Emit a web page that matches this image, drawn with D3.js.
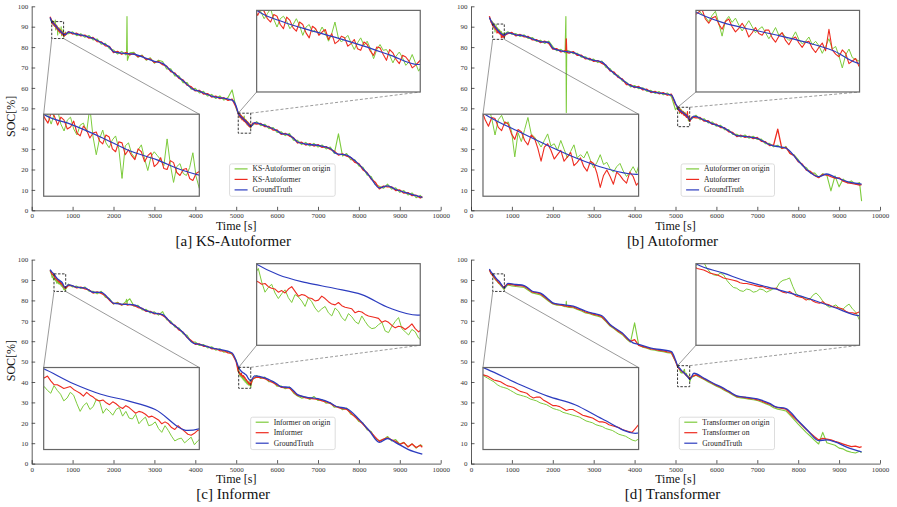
<!DOCTYPE html>
<html>
<head>
<meta charset="utf-8">
<script src="https://cdn.jsdelivr.net/npm/d3@7"></script>
<style>
  body { margin: 0; background: #fff; }
  svg text { font-family: "Liberation Serif", "Times New Roman", serif; }
</style>
</head>
<body>
<svg id="chart" width="897" height="507"></svg>
<script>
// ---- sample times (s) shared by the two predicted series of every panel ----
const tStart = [450];
const tNear = d3.range(480, 841, 6);       // dense around the first zoom window
const tMidA = d3.range(900, 2301, 100);
const tSpike = [2320, 2330, 2340];
const tMidB = d3.range(2400, 5001, 100);
const tDrop = d3.range(5040, 5365, 6);     // dense around the second zoom window
const tEnd = d3.range(5400, 9501, 100).concat([9550]);
const sampleTimes = [].concat(tStart, tNear, tMidA, tSpike, tMidB, tDrop, tEnd);

// ground truth knots
const truthTimes = [450, 490, 540, 600, 650, 700, 750, 810, 900, 1100, 1300, 1500, 1700, 1900, 2000, 2200, 2500, 2800, 3000, 3200,
  3400, 3700, 3950, 4100, 4400, 4900, 5000, 5050, 5100, 5150, 5200, 5250, 5300, 5350, 5450, 5700, 6000, 6100, 6300, 6500,
  6700, 7000, 7300, 7450, 7700, 8000, 8250, 8500, 8700, 8900, 9200, 9550];

const truthA = [94.5, 92.5, 91.5, 90.1, 88.8, 87.9, 86.8, 86.1, 87.3, 86.3, 85.5, 84.3, 82.2, 80.0, 77.8, 77.0, 76.5, 74.5, 73.0, 72.0,
  68.5, 63.5, 59.3, 58.3, 56.0, 54.0, 51.0, 47.6, 46.2, 45.2, 44.3, 43.3, 42.2, 41.1, 43.0, 41.5, 39.0, 37.7, 36.9, 33.5,
  32.5, 31.8, 30.3, 27.8, 27.0, 22.5, 17.0, 11.0, 12.0, 10.2, 8.3, 6.3];
const truthB = [94.5, 92.8, 91.1, 89.6, 88.4, 87.3, 86.4, 85.8, 87.0, 86.0, 85.5, 84.0, 82.7, 82.3, 79.5, 78.2, 77.3, 74.7, 73.5, 72.6,
  68.8, 64.0, 60.7, 60.2, 58.2, 56.5, 52.5, 50.4, 49.1, 48.3, 47.6, 46.8, 45.8, 44.3, 46.2, 44.2, 41.8, 41.1, 39.0, 36.6,
  36.2, 35.3, 32.2, 31.4, 30.5, 24.3, 19.2, 16.5, 17.8, 16.3, 14.0, 12.8];
const truthC = [95.1, 94.0, 93.0, 91.3, 90.2, 89.5, 88.6, 86.4, 87.6, 86.5, 86.1, 84.0, 83.9, 80.5, 78.7, 78.2, 77.8, 75.0, 73.8, 73.0,
  69.2, 64.3, 59.1, 58.5, 56.7, 54.2, 50.3, 47.6, 45.8, 44.8, 44.1, 43.3, 41.6, 40.7, 43.0, 42.0, 39.0, 37.7, 37.4, 33.8,
  32.6, 31.8, 29.8, 28.0, 27.0, 21.8, 16.2, 10.4, 12.3, 10.3, 7.0, 4.6];
const truthD = [95.4, 94.0, 92.8, 91.2, 90.0, 89.1, 87.6, 86.1, 88.3, 87.8, 87.3, 84.5, 83.6, 80.5, 78.8, 78.0, 77.2, 74.8, 73.6, 72.5,
  68.2, 64.0, 59.3, 58.4, 56.6, 54.9, 50.8, 48.0, 46.8, 45.6, 44.7, 43.7, 42.5, 41.4, 44.3, 41.8, 38.6, 37.7, 35.5, 33.2,
  32.6, 31.7, 29.5, 27.8, 27.0, 21.0, 15.9, 11.3, 11.6, 10.6, 8.0, 5.8];

// ---- predictions (red) and predictions on origin data (green), aligned with sampleTimes ----
const predA = [94.9,
  93.4, 92.9, 92.1, 91.6, 92.7, 92.3, 91.4, 92.2, 91.9, 91.0, 91.2, 91.8, 90.6, 90.3, 91.3, 90.9, 90.1, 90.6, 90.7, 89.8,
  89.5, 90.4, 90.2, 89.0, 88.7, 89.7, 89.6, 88.4, 88.9, 88.3, 87.9, 89.0, 88.7, 87.7, 88.3, 88.6, 87.2, 87.5, 88.1, 87.0,
  86.9, 87.8, 87.6, 86.6, 86.3, 86.9, 87.0, 86.0, 85.8, 86.5, 86.7, 85.9, 85.4, 86.6, 86.4, 85.7, 85.9, 86.3, 86.8, 86.0, 86.3,
  87.6, 86.4, 86.8, 85.5, 85.9, 84.4, 84.7, 82.7, 82.6, 80.6, 80.4, 77.3, 77.9, 76.5, 77.3,
  76.6, 77.4, 76.9,
  76.2, 76.9, 75.3, 75.7, 73.9, 74.2, 72.5, 73.0, 71.4, 70.7, 68.0, 67.3, 64.7, 63.9, 61.3, 60.6, 58.5, 58.8, 57.0, 57.2, 55.5, 56.0, 54.7, 55.2, 53.9, 54.5, 50.4,
  48.3, 47.9, 47.0, 47.8, 47.5, 46.6, 46.2, 47.1, 46.9, 45.9, 45.4, 46.8, 46.4, 45.5, 45.1, 46.2, 45.9, 44.9, 44.3, 45.7,
  45.4, 44.6, 45.0, 45.3, 44.1, 44.8, 43.6, 43.9, 44.5, 44.3, 43.3, 43.6, 44.1, 43.0, 42.8, 43.8, 43.5, 42.7, 42.2, 43.2,
  43.1, 42.3, 41.6, 42.9, 42.5, 41.7, 41.2, 42.2, 42.0, 41.5, 40.7, 41.0, 41.4, 41.8, 40.9,
  42.7, 42.3, 42.6, 41.0, 41.1, 39.3, 39.4, 37.2, 37.7, 36.4, 35.6, 33.0, 33.4, 32.0, 32.7, 31.5, 32.2, 30.8, 31.2, 29.8, 29.0, 27.1, 27.7, 26.5, 25.9, 23.5, 22.9, 19.8, 18.5, 15.3, 13.8, 10.5, 11.9, 11.5, 11.5, 9.7, 10.0, 8.4, 8.7, 7.2, 7.4, 6.0,
  6.8];
const originA = [94.0,
  92.6, 92.2, 93.1, 92.4, 91.5, 92.6, 92.9, 91.5, 90.8, 91.9, 92.2, 91.0, 90.4, 91.4, 91.6, 90.7, 93.2, 90.2, 88.4, 90.0,
  90.9, 89.6, 89.1, 89.9, 90.3, 89.0, 86.0, 89.3, 89.6, 88.5, 88.1, 88.9, 89.4, 88.0, 86.8, 88.2, 88.7, 88.3, 87.9, 87.3,
  90.0, 87.4, 85.6, 87.2, 87.5, 86.5, 86.3, 87.1, 88.6, 86.2, 85.0, 86.6, 85.1, 86.3, 86.9, 85.8, 86.0, 86.7, 87.4, 86.2, 86.4,
  86.6, 87.5, 85.6, 86.6, 84.8, 85.7, 83.5, 84.0, 81.4, 81.9, 79.2, 78.6, 76.6, 77.9, 76.2,
  77.5, 95.0, 73.5,
  77.2, 77.4, 75.0, 76.1, 73.6, 74.8, 72.1, 73.6, 72.9, 69.3, 69.4, 65.9, 65.9, 62.6, 62.6, 59.3, 59.8, 57.5, 58.3, 56.0, 56.8, 54.8, 56.1, 54.0, 55.3, 59.0, 50.0,
  47.6, 47.9, 48.2, 47.4, 46.6, 47.2, 47.8, 46.5, 45.6, 46.6, 46.9, 46.3, 45.4, 45.9, 46.6, 45.8, 44.6, 45.6, 45.9, 45.0,
  45.3, 44.8, 45.6, 44.9, 43.9, 44.8, 46.2, 44.4, 43.8, 44.2, 44.6, 43.7, 42.9, 43.7, 44.3, 43.4, 43.9, 43.0, 41.8, 42.9,
  43.5, 42.8, 42.9, 42.2, 41.3, 42.1, 42.6, 41.9, 41.0, 41.4, 42.3, 41.3, 40.3, 41.0, 41.6,
  41.6, 43.5, 41.5, 42.2, 40.0, 40.6, 38.2, 38.5, 36.6, 37.7, 34.4, 34.3, 32.2, 33.3, 31.5, 32.8, 31.0, 32.0, 30.1, 31.0, 27.9, 37.5, 26.6, 27.8, 24.8, 24.8, 21.7, 21.1, 17.3, 16.6, 12.6, 11.8, 10.8, 12.8, 10.4, 11.0, 8.8, 9.7, 7.5, 8.5, 6.2, 7.3,
  6.0];

const predB = [95.2,
  93.0, 92.6, 92.1, 92.6, 92.5, 91.6, 91.0, 91.8, 91.6, 90.8, 90.2, 91.0, 90.9, 90.1, 89.8, 90.6, 90.4, 89.5, 89.0, 89.9,
  89.7, 88.9, 88.5, 89.4, 89.1, 88.2, 87.0, 88.3, 88.6, 88.0, 87.2, 87.6, 88.0, 87.0, 87.4, 87.8, 86.6, 86.9, 87.3, 86.5,
  86.1, 87.0, 86.8, 85.9, 84.6, 85.7, 86.2, 85.6, 84.9, 86.0, 85.7, 85.3, 85.0, 86.0, 85.6, 84.8, 85.2, 85.6, 85.9, 86.3, 86.0,
  86.6, 87.2, 85.5, 86.2, 85.0, 85.2, 83.5, 83.7, 82.2, 82.9, 81.8, 79.0, 79.2, 77.6, 78.3,
  78.0, 84.0, 77.4,
  77.1, 77.8, 75.9, 76.0, 74.2, 74.5, 73.0, 73.4, 72.0, 71.2, 68.3, 67.7, 65.1, 64.4, 61.6, 61.6, 60.1, 60.7, 59.0, 59.4, 57.7, 58.3, 57.1, 57.7, 56.4, 56.9, 51.9,
  51.0, 50.4, 50.0, 50.3, 50.6, 49.5, 49.0, 49.6, 49.8, 48.9, 48.3, 49.2, 49.5, 48.6, 48.0, 48.4, 49.0, 48.4, 47.4, 47.9,
  48.5, 47.8, 47.6, 48.2, 48.2, 47.3, 46.8, 47.5, 47.9, 47.0, 46.5, 47.2, 47.4, 46.7, 46.2, 46.8, 46.9, 46.1, 45.6, 46.2,
  46.7, 45.8, 48.3, 45.9, 45.4, 45.1, 45.9, 45.5, 44.3, 44.6, 44.9, 44.0, 43.6, 44.4, 44.2,
  45.7, 45.3, 45.5, 43.7, 43.9, 42.1, 42.2, 40.6, 40.5, 38.5, 38.2, 36.1, 36.8, 35.7, 36.3, 35.1, 35.7, 33.8, 33.6, 31.7, 32.1, 39.8, 30.4, 30.9, 27.9, 26.8, 23.8, 22.7, 19.7, 19.1, 17.1, 16.0, 17.6, 17.3, 16.5, 15.8, 15.9, 14.3, 13.5, 13.2, 12.8, 12.4,
  12.6];
const originB = [94.3,
  93.5, 93.1, 93.0, 92.4, 91.8, 92.2, 92.6, 91.7, 91.1, 91.6, 92.0, 90.9, 89.4, 90.8, 91.2, 90.4, 90.6, 89.8, 87.4, 89.6,
  88.8, 89.9, 91.0, 89.5, 89.2, 88.8, 88.3, 88.9, 89.5, 88.4, 88.6, 88.0, 88.9, 88.1, 87.3, 87.9, 88.5, 87.3, 87.6, 87.3,
  87.9, 87.1, 86.4, 86.9, 87.6, 86.7, 86.9, 86.3, 86.0, 86.5, 86.8, 86.1, 85.6, 86.0, 86.5, 85.9, 86.9, 86.2, 85.4, 86.1, 86.7,
  87.5, 86.3, 86.6, 85.2, 86.0, 84.2, 84.7, 82.8, 83.4, 81.8, 82.9, 80.2, 78.2, 78.9, 77.2,
  95.0, 48.0, 78.4,
  78.1, 76.8, 77.0, 75.0, 75.3, 73.6, 74.1, 72.4, 73.2, 70.0, 69.5, 66.6, 66.2, 63.4, 62.8, 60.5, 61.2, 59.6, 60.1, 58.3, 58.8, 57.3, 58.2, 56.6, 57.5, 55.8, 49.3,
  50.3, 50.7, 51.0, 50.4, 50.1, 49.7, 49.2, 49.9, 50.4, 49.0, 47.5, 49.3, 49.8, 49.1, 49.6, 48.8, 48.1, 48.7, 49.3, 48.6,
  47.9, 48.3, 48.6, 47.9, 47.2, 47.8, 48.5, 47.6, 47.9, 47.4, 47.0, 47.3, 48.0, 47.1, 46.6, 46.9, 47.4, 46.5, 46.9, 46.4,
  45.5, 46.3, 47.2, 46.0, 46.3, 45.2, 43.8, 45.3, 46.0, 45.0, 44.8, 44.6, 44.0, 44.5, 45.1,
  44.8, 46.6, 44.4, 44.9, 42.8, 43.3, 41.2, 41.7, 39.5, 39.6, 37.2, 37.3, 35.9, 36.9, 35.3, 36.3, 34.7, 34.9, 32.6, 32.8, 31.1, 31.9, 30.2, 31.3, 27.8, 27.2, 24.9, 22.0, 20.9, 18.2, 18.3, 16.1, 17.9, 17.2, 9.5, 16.9, 11.5, 15.3, 13.5, 14.4, 12.8, 13.6,
  4.5];

const predC = [94.8,
  93.6, 93.3, 93.2, 92.9, 92.7, 92.9, 92.8, 92.5, 92.4, 92.4, 92.2, 91.9, 92.1, 91.6, 91.2, 91.2, 91.0, 90.8, 90.9, 91.0,
  90.7, 90.5, 90.3, 90.0, 90.4, 90.1, 89.9, 89.6, 89.5, 89.6, 89.3, 89.1, 89.4, 89.2, 88.9, 88.7, 89.0, 88.8, 88.5, 88.2,
  88.4, 88.3, 88.1, 87.8, 87.9, 87.7, 87.5, 87.1, 87.3, 87.1, 86.7, 86.5, 86.9, 86.6, 86.3, 86.0, 85.9, 86.1, 86.4, 86.5, 86.2,
  87.3, 87.2, 86.1, 86.5, 85.7, 85.2, 83.6, 84.2, 83.4, 82.4, 80.1, 78.4, 78.7, 77.8, 78.3,
  77.9, 78.2, 77.7,
  78.0, 77.5, 76.5, 76.1, 74.6, 74.6, 73.4, 73.6, 72.6, 71.3, 68.8, 67.8, 65.5, 64.5, 61.8, 60.3, 58.5, 58.7, 57.5, 57.5, 56.3, 56.4, 55.3, 55.4, 54.3, 54.0, 49.9,
  46.2, 45.6, 45.3, 45.1, 44.9, 44.6, 44.7, 44.3, 44.1, 44.0, 43.6, 43.8, 43.5, 44.0, 44.3, 43.7, 43.1, 43.3, 43.2, 42.9,
  42.8, 42.5, 42.6, 43.1, 42.8, 42.4, 42.1, 42.0, 42.3, 41.9, 41.7, 41.6, 41.5, 41.0, 41.2, 41.1, 40.8, 40.6, 40.5, 40.4,
  40.3, 39.8, 40.0, 39.8, 39.4, 39.1, 39.3, 39.2, 38.9, 39.2, 39.6, 39.0, 38.6, 38.9, 39.4,
  41.5, 42.4, 42.1, 41.6, 40.6, 39.7, 38.6, 37.4, 37.2, 37.0, 35.2, 33.4, 32.9, 32.2, 32.0, 31.7, 31.5, 30.8, 30.2, 29.5, 28.3, 27.5, 27.0, 26.6, 24.9, 23.0, 21.3, 19.3, 17.2, 15.1, 13.0, 10.9, 12.0, 12.6, 11.7, 10.9, 9.4, 10.3, 8.2, 9.6, 7.9, 9.0,
  8.0];
const originC = [94.5,
  93.0, 92.4, 92.0, 91.3, 91.4, 92.0, 91.9, 91.2, 90.8, 90.1, 90.4, 91.0, 90.6, 90.3, 91.1, 90.6, 90.2, 89.5, 89.8, 90.4,
  90.1, 89.2, 88.4, 89.0, 89.3, 88.6, 88.9, 89.7, 89.4, 88.2, 88.7, 88.4, 88.0, 88.6, 88.8, 87.9, 88.4, 87.7, 87.6, 88.1,
  87.1, 87.5, 87.8, 86.9, 87.0, 87.3, 86.6, 86.2, 86.9, 86.4, 85.8, 85.3, 85.5, 85.6, 85.1, 85.4, 85.7, 84.9, 85.3, 85.6, 85.9,
  88.0, 86.6, 87.0, 85.8, 86.6, 84.5, 84.5, 83.2, 84.5, 81.6, 80.9, 78.2, 79.1, 77.6, 79.4,
  80.5, 78.0, 79.8,
  80.8, 77.2, 77.6, 75.3, 75.6, 73.8, 74.4, 72.8, 74.5, 70.5, 69.9, 67.0, 66.5, 63.7, 62.9, 59.6, 59.6, 57.9, 58.4, 56.7, 57.3, 55.6, 56.3, 54.6, 55.1, 53.5, 50.7,
  46.8, 45.4, 45.0, 45.9, 46.6, 44.9, 43.6, 44.2, 44.6, 43.5, 42.8, 43.4, 43.9, 42.9, 42.3, 43.3, 43.0, 42.5, 41.8, 42.9,
  42.4, 41.6, 41.1, 41.5, 41.8, 41.0, 40.6, 41.6, 41.2, 40.4, 40.0, 40.9, 40.5, 39.9, 39.6, 40.6, 39.9, 39.3, 39.0, 39.1,
  39.5, 39.8, 38.7, 38.5, 39.3, 39.9, 40.4, 39.0, 38.6, 38.2, 38.9, 38.6, 37.8, 37.5, 38.6,
  41.0, 43.2, 41.7, 42.4, 40.1, 40.3, 37.9, 38.0, 36.7, 37.6, 34.6, 33.1, 32.1, 32.6, 31.4, 32.9, 30.9, 31.4, 29.6, 29.9, 27.6, 27.9, 26.4, 27.2, 24.2, 23.4, 20.6, 19.9, 16.6, 15.7, 12.2, 11.3, 11.7, 13.3, 11.1, 11.8, 9.6, 10.4, 8.2, 9.7, 7.6, 9.2,
  8.8];

const predD = [95.0,
  93.6, 93.3, 93.1, 93.0, 92.9, 92.7, 92.6, 92.5, 92.3, 92.2, 92.1, 91.9, 91.7, 91.6, 91.5, 91.3, 91.1, 91.0, 90.9, 90.7,
  90.5, 90.4, 90.3, 90.0, 89.8, 89.9, 89.9, 89.6, 89.4, 89.2, 89.0, 89.0, 88.9, 88.7, 88.5, 88.6, 88.6, 88.4, 88.2, 88.0,
  87.9, 87.8, 87.7, 87.5, 87.3, 87.3, 87.2, 87.0, 86.9, 86.8, 86.7, 86.5, 86.4, 86.3, 86.2, 86.6, 87.0, 86.9, 86.8, 86.9, 87.1,
  87.9, 87.8, 87.3, 87.3, 86.9, 85.6, 84.1, 83.8, 83.2, 81.7, 80.1, 78.5, 78.0, 77.7, 77.3,
  77.4, 77.1, 77.3,
  77.0, 76.8, 75.9, 75.3, 74.3, 73.9, 73.1, 72.8, 72.0, 70.0, 67.8, 66.5, 64.9, 63.7, 61.6, 59.9, 60.8, 58.0, 57.4, 56.9, 56.2, 56.0, 55.5, 55.3, 54.8, 54.5, 50.3,
  48.1, 47.7, 47.4, 47.3, 47.2, 47.0, 46.8, 46.7, 46.6, 46.4, 46.2, 46.1, 46.0, 45.9, 45.8, 45.6, 45.5, 45.5, 45.4, 45.3,
  45.2, 45.1, 45.1, 44.9, 44.8, 44.9, 44.9, 44.6, 44.4, 44.3, 44.5, 44.2, 43.9, 43.8, 43.7, 43.4, 43.6, 43.3, 43.1, 43.0,
  43.2, 42.9, 42.8, 42.6, 42.5, 42.4, 42.3, 42.0, 41.8, 41.8, 41.7, 41.9, 42.1, 42.2, 42.3,
  42.6, 43.5, 42.6, 41.5, 40.5, 39.4, 38.3, 37.5, 36.3, 35.3, 34.0, 32.9, 32.7, 32.4, 32.0, 31.8, 31.3, 30.7, 29.9, 29.2, 28.1, 27.4, 27.1, 26.7, 24.6, 22.6, 20.7, 18.7, 16.7, 14.9, 13.2, 11.6, 12.4, 12.0, 11.6, 10.9, 10.3, 9.6, 8.9, 8.3, 8.6, 7.9,
  8.3];
const originD = [94.8,
  93.8, 93.5, 93.2, 93.0, 92.8, 92.6, 92.5, 92.4, 92.3, 92.1, 91.9, 91.7, 91.5, 91.2, 91.0, 90.9, 90.8, 90.6, 90.4, 90.2,
  90.1, 90.0, 89.9, 89.7, 89.6, 89.5, 89.3, 89.2, 89.1, 88.9, 88.7, 88.6, 88.5, 88.3, 88.2, 88.1, 88.0, 87.9, 87.8, 87.6,
  87.4, 87.3, 87.2, 87.0, 86.9, 86.8, 86.6, 86.5, 86.4, 86.2, 86.0, 85.9, 85.8, 85.6, 85.4, 85.3, 85.5, 85.7, 85.9, 86.1, 86.3,
  87.6, 87.1, 86.8, 86.6, 86.3, 85.0, 83.6, 83.2, 82.6, 81.2, 79.6, 78.2, 77.6, 77.6, 76.9,
  77.0, 79.5, 76.8,
  76.6, 76.4, 75.5, 74.8, 73.8, 73.5, 72.7, 72.3, 71.6, 69.6, 67.4, 66.1, 64.5, 63.2, 61.1, 59.5, 69.0, 58.2, 57.0, 56.6, 55.8, 55.6, 55.1, 54.9, 54.4, 54.1, 50.0,
  48.3, 47.9, 47.8, 48.4, 48.2, 47.4, 46.9, 46.6, 46.5, 46.8, 46.6, 45.9, 45.4, 45.0, 44.9, 44.6, 44.5, 44.8, 44.7, 44.4,
  44.5, 44.8, 44.7, 44.4, 44.6, 44.8, 44.9, 45.6, 45.9, 46.0, 46.2, 45.1, 44.2, 43.9, 43.8, 43.6, 43.4, 44.0, 44.3, 43.9,
  43.3, 42.8, 42.5, 42.6, 42.8, 42.4, 42.2, 42.6, 42.9, 42.3, 41.9, 41.0, 40.3, 40.6, 41.2,
  42.3, 43.3, 42.2, 41.2, 40.0, 39.0, 37.9, 37.0, 35.8, 34.8, 33.6, 32.5, 32.2, 31.9, 31.6, 31.3, 30.9, 30.2, 29.4, 28.6, 27.4, 26.7, 26.3, 25.8, 23.8, 21.6, 19.4, 17.3, 15.2, 13.4, 11.4, 9.6, 15.3, 10.2, 9.6, 9.0, 7.6, 7.2, 6.1, 5.6, 5.2, 6.0,
  5.4];

// zoom windows [t0, t1, soc0, soc1]
const nearWindows = [[490, 780, 84.2, 92.5], [530, 814, 83.8, 91.3], [545, 831, 84.4, 93.0], [532, 816, 84.4, 93.0]];
const dropWindows = [[5050, 5355, 37.8, 47.6], [5053, 5347, 41.0, 50.5], [5061, 5355, 36.9, 47.2], [5050, 5347, 37.7, 48.0]];

const titles = ["[a] KS-Autoformer", "[b] Autoformer", "[c] Informer", "[d] Transformer"];
const legendA = ["KS-Autoformer on origin", "KS-Autoformer", "GroundTruth"];
const legendB = ["Autoformer on origin", "Autoformer", "GroundTruth"];
const legendC = ["Informer on origin", "Imformer", "GroundTruth"];
const legendD = ["Transformer on origin", "Transformer on", "GroundTruth"];
const xTicks = [0, 1000, 2000, 3000, 4000, 5000, 6000, 7000, 8000, 9000, 10000];
const yTicks = [0, 10, 20, 30, 40, 50, 60, 70, 80, 90, 100];

const panels = [
  {truth: truthA, pred: predA, origin: originA, legend: legendA, socY: 110},
  {truth: truthB, pred: predB, origin: originB, legend: legendB, socY: null},
  {truth: truthC, pred: predC, origin: originC, legend: legendC, socY: 101},
  {truth: truthD, pred: predD, origin: originD, legend: legendD, socY: null}
];

// ---- layout ----
const svg = d3.select("#chart");
const plotW = 409, plotH = 204;
const frames = [{left: 31.7, top: 6.3}, {left: 471, top: 6.3}, {left: 31.7, top: 259.6}, {left: 471, top: 259.6}];
const nearBox = [293, 4098, 6.9, 47.1];  // lower-left inset, in parent data units
const dropBox = [5500, 9500, 58, 98];    // upper-right inset
const colOrigin = "#7dcb3c", colPred = "#ee2b1f", colTruth = "#2c3cbf";

function toPoints(times, values) {
  return times.map((t, k) => [t, values[k]]);
}

function drawLines(group, x, y, origin, pred, truth, w) {
  const jag = d3.line().x(d => x(d[0])).y(d => y(d[1]));
  const smooth = d3.line().curve(d3.curveMonotoneX).x(d => x(d[0])).y(d => y(d[1]));
  group.append("path").attr("d", jag(origin)).attr("fill", "none")
    .attr("stroke", colOrigin).attr("stroke-width", w[0]).attr("stroke-linejoin", "round");
  group.append("path").attr("d", jag(pred)).attr("fill", "none")
    .attr("stroke", colPred).attr("stroke-width", w[1]).attr("stroke-linejoin", "round");
  group.append("path").attr("d", smooth(truth)).attr("fill", "none")
    .attr("stroke", colTruth).attr("stroke-width", w[2]);
}

function drawInset(g, x, y, series, win, box, clipId, upper) {
  const bx0 = x(box[0]), bx1 = x(box[1]), byTop = y(box[3]), byBot = y(box[2]);
  const rx0 = x(win[0]), rx1 = x(win[1]), ryTop = y(win[3]), ryBot = y(win[2]);

  const link = (x1, y1, x2, y2, dash) => g.append("line")
    .attr("x1", x1).attr("y1", y1).attr("x2", x2).attr("y2", y2)
    .attr("stroke", "#555").attr("stroke-width", 0.6)
    .attr("stroke-dasharray", dash ? "3,2" : null);
  if (upper) {
    link(rx0, ryTop, bx0, byBot, false);
    link(rx1, ryTop, bx1, byBot, true);
  } else {
    link(rx0, ryBot, bx0, byTop, false);
    link(rx1, ryBot, bx1, byTop, false);
  }

  g.append("rect").attr("x", rx0).attr("y", ryTop)
    .attr("width", rx1 - rx0).attr("height", ryBot - ryTop)
    .attr("fill", "none").attr("stroke", "#222").attr("stroke-width", 0.9)
    .attr("stroke-dasharray", "2.5,1.5");

  const xs = d3.scaleLinear().domain([win[0], win[1]]).range([bx0, bx1]);
  const ys = d3.scaleLinear().domain([win[2], win[3]]).range([byBot, byTop]);

  g.append("clipPath").attr("id", clipId).append("rect")
    .attr("x", bx0).attr("y", byTop).attr("width", bx1 - bx0).attr("height", byBot - byTop);
  g.append("rect").attr("x", bx0).attr("y", byTop).attr("width", bx1 - bx0).attr("height", byBot - byTop)
    .attr("fill", "#fff");
  const inner = g.append("g").attr("clip-path", `url(#${clipId})`);
  drawLines(inner, xs, ys, series.origin, series.pred, series.truth, [1.0, 1.1, 1.2]);
  g.append("rect").attr("x", bx0).attr("y", byTop).attr("width", bx1 - bx0).attr("height", byBot - byTop)
    .attr("fill", "none").attr("stroke", "#666").attr("stroke-width", 1.2);
}

panels.forEach((p, i) => {
  const f = frames[i];
  const g = svg.append("g").attr("transform", `translate(${f.left},${f.top})`);
  const x = d3.scaleLinear().domain([0, 10000]).range([0, plotW]);
  const y = d3.scaleLinear().domain([0, 100]).range([plotH, 0]);

  const series = {
    origin: toPoints(sampleTimes, p.origin),
    pred: toPoints(sampleTimes, p.pred),
    truth: toPoints(truthTimes, p.truth)
  };

  // axes (left and bottom only, ticks inward)
  const xAxis = d3.axisBottom(x).tickValues(xTicks).tickFormat(d3.format("d"))
    .tickSize(-3.5).tickSizeOuter(0).tickPadding(3);
  const yAxis = d3.axisLeft(y).tickValues(yTicks).tickFormat(d3.format("d"))
    .tickSize(-3.5).tickSizeOuter(0).tickPadding(3.5);
  const gx = g.append("g").attr("transform", `translate(0,${plotH})`).call(xAxis);
  const gy = g.append("g").call(yAxis);
  [gx, gy].forEach(a => {
    a.attr("font-size", 7).attr("font-family", "'Liberation Serif', 'Times New Roman', serif");
    a.selectAll("path, line").attr("stroke", "#333").attr("stroke-width", 0.8);
    a.selectAll("text").attr("fill", "#333");
  });

  drawLines(g, x, y, series.origin, series.pred, series.truth, [1.1, 1.3, 1.3]);

  drawInset(g, x, y, series, nearWindows[i], nearBox, `clip-near-${i}`, false);
  drawInset(g, x, y, series, dropWindows[i], dropBox, `clip-drop-${i}`, true);

  // legend
  const rowGap = 10.5;
  const leg = g.append("g");
  const colors = [colOrigin, colPred, colTruth];
  let maxW = 0;
  p.legend.forEach((label, k) => {
    const ly = 5 + k * rowGap;
    leg.append("line").attr("x1", 5).attr("x2", 18).attr("y1", ly).attr("y2", ly)
      .attr("stroke", colors[k]).attr("stroke-width", 1.2);
    const t = leg.append("text").attr("x", 23).attr("y", ly).attr("dy", "0.33em")
      .attr("font-size", 7.6).attr("fill", "#222").text(label);
    maxW = Math.max(maxW, t.node().getComputedTextLength());
  });
  const boxW = 23 + maxW + 5, boxH = 5 + 2 * rowGap + 6.4;
  leg.insert("rect", ":first-child").attr("width", boxW).attr("height", boxH)
    .attr("rx", 2).attr("fill", "#fff").attr("stroke", "#d4d4d4").attr("stroke-width", 0.8);
  leg.attr("transform", `translate(${303.5 - boxW},${190 - boxH})`);

  // labels
  g.append("text").attr("x", plotW / 2).attr("y", 223.7).attr("text-anchor", "middle")
    .attr("font-size", 12).attr("fill", "#111").text("Time [s]");
  g.append("text").attr("x", plotW / 2 - 3).attr("y", 239.5).attr("text-anchor", "middle")
    .attr("font-size", 15).attr("fill", "#111").text(titles[i]);
  if (p.socY !== null) {
    g.append("text").attr("transform", `translate(${14.5 - f.left},${p.socY}) rotate(-90)`)
      .attr("text-anchor", "middle").attr("font-size", 12).attr("fill", "#111").text("SOC[%]");
  }
});
</script>
</body>
</html>
